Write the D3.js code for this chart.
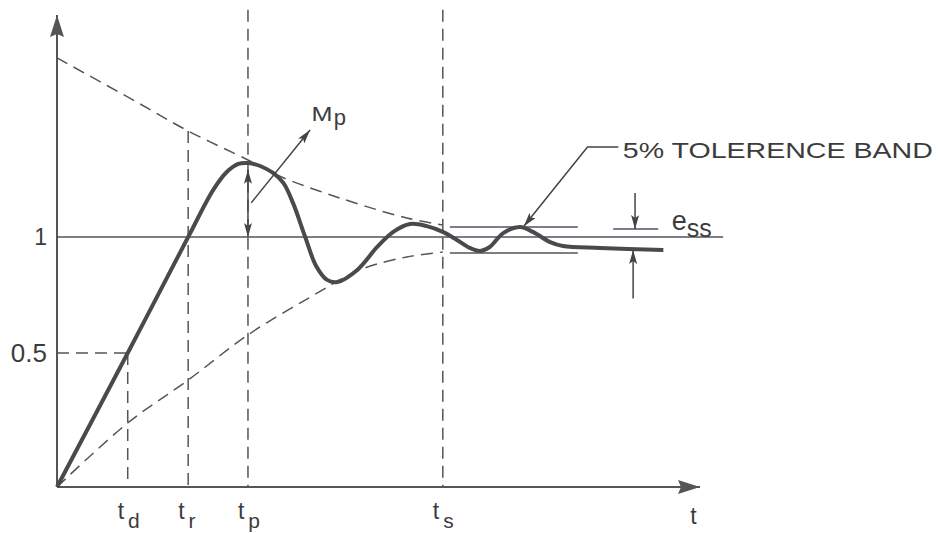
<!DOCTYPE html>
<html>
<head>
<meta charset="UTF-8">
<title>Step response</title>
<script src="https://d3js.org/d3.v7.min.js"></script>
<style>
  body {margin:0; background:#fff;}
  text {font-family:"Liberation Sans", Arial, sans-serif; fill:#3c3c3c;}
  .thin {stroke:#565260; stroke-width:1.5; fill:none;}
  .dash {stroke:#555; stroke-width:1.5; fill:none; stroke-dasharray:12,7;}
  .axis {stroke:#555; stroke-width:2; fill:none;}
</style>
</head>
<body>
<div id="chart"></div>
<script>
// response curve
var respT = [0, 11.0, 20.4, 24.3, 26.4, 28.2, 29.7, 31.6, 33.6, 35.2, 36.7, 38.6, 40.3, 42.0, 43.6, 46.7, 49.8, 52.3, 54.9, 57.5, 60.0, 62.2, 64.2, 65.8, 67.3, 69.4, 72.0, 74.0, 76.7, 78.7, 84.5, 94.3];
var respY = [0, 0.5, 1.0, 1.203, 1.280, 1.315, 1.319, 1.306, 1.276, 1.233, 1.147, 1.0, 0.875, 0.815, 0.806, 0.858, 0.957, 1.022, 1.056, 1.047, 1.022, 0.987, 0.953, 0.940, 0.957, 1.017, 1.043, 1.022, 0.978, 0.961, 0.953, 0.944];

// envelopes (dashed)
var upT = [0, 11.8, 20.4, 29.7, 34.2, 44.0, 54.4, 60.0];
var upY = [1.772, 1.591, 1.457, 1.332, 1.267, 1.168, 1.082, 1.052];
var lowT = [0, 11.0, 20.4, 29.7, 39.4, 47.1, 54.4, 60.0];
var lowY = [0, 0.239, 0.399, 0.578, 0.741, 0.858, 0.914, 0.935];

// time markers
var tickSub = ["d", "r", "p", "s"];
var tickT = [11.0, 20.4, 29.7, 60.0];
var tickTop = [0.5, 1.457, 1.98, 1.98];

// y labels
var yTicks = [0.5, 1];
var yLabels = ["0.5", "1"];

// tolerance band
var bandY = [1.043, 0.931];
var bandT = [61.1, 81.0];
var essY = [1.034, 0.944];

var width = 939, height = 533;

var x = d3.scaleLinear().domain([0, 100]).range([57, 700]);
// hand drawn figure: 0.5 is not half way between 0 and 1
var y = d3.scaleLinear().domain([0, 0.5, 1]).range([487, 353, 237]);

var svg = d3.select("#chart").append("svg")
    .attr("width", width)
    .attr("height", height);

var defs = svg.append("defs");
function marker(id, w, h, col) {
  defs.append("marker").attr("id", id)
      .attr("viewBox", "0 0 " + w + " " + h)
      .attr("refX", w).attr("refY", h / 2)
      .attr("markerWidth", w).attr("markerHeight", h)
      .attr("markerUnits", "userSpaceOnUse")
      .attr("orient", "auto-start-reverse")
    .append("path")
      .attr("d", "M0,0L" + w + "," + (h / 2) + "L0," + h + "L3," + (h / 2) + "Z")
      .attr("fill", col);
}
marker("big", 22, 14, "#555");
marker("small", 14, 8, "#444");

var line = d3.line()
    .x(function(d) {return x(d[0])})
    .y(function(d) {return y(d[1])})
    .curve(d3.curveCatmullRom);

// axes
svg.append("line").attr("class", "axis")
    .attr("x1", x(0)).attr("y1", y(0)).attr("x2", x(0)).attr("y2", y(1.957))
    .attr("marker-end", "url(#big)");
svg.append("line").attr("class", "axis")
    .attr("x1", x(0)).attr("y1", y(0)).attr("x2", x(100)).attr("y2", y(0))
    .attr("marker-end", "url(#big)");

// y = 1 line
svg.append("line").attr("class", "thin")
    .attr("x1", x(0)).attr("y1", y(1)).attr("x2", x(103.6)).attr("y2", y(1));

// 0.5 dashed
svg.append("line").attr("class", "dash")
    .attr("x1", x(0)).attr("y1", y(0.5)).attr("x2", x(tickT[0])).attr("y2", y(0.5));

// vertical dashed markers
svg.selectAll(".vdash").data(tickT).enter().append("line")
    .attr("class", "dash vdash")
    .attr("x1", function(d) {return x(d)})
    .attr("x2", function(d) {return x(d)})
    .attr("y1", function(d, i) {return y(tickTop[i])})
    .attr("y2", y(0));

// envelopes
svg.append("path").attr("class", "dash")
    .attr("d", line(upT.map(function(t, i) {return [t, upY[i]]})));
svg.append("path").attr("class", "dash")
    .attr("d", line(lowT.map(function(t, i) {return [t, lowY[i]]})));

// tolerance band
svg.selectAll(".band").data(bandY).enter().append("line")
    .attr("class", "thin band")
    .attr("x1", x(bandT[0])).attr("x2", x(bandT[1]))
    .attr("y1", function(d) {return y(d)})
    .attr("y2", function(d) {return y(d)});

// response
svg.append("path")
    .attr("d", line(respT.map(function(t, i) {return [t, respY[i]]})))
    .attr("fill", "none")
    .attr("stroke", "#4a4a4a")
    .attr("stroke-width", 4)
    .attr("stroke-linejoin", "round");

// Mp arrows
svg.append("line").attr("stroke", "#444").attr("stroke-width", 1.5)
    .attr("x1", x(29.7)).attr("y1", y(1.29)).attr("x2", x(29.7)).attr("y2", y(1.0))
    .attr("marker-start", "url(#small)").attr("marker-end", "url(#small)");
svg.append("line").attr("stroke", "#444").attr("stroke-width", 1.5)
    .attr("x1", x(30.2)).attr("y1", y(1.147)).attr("x2", x(39.35)).attr("y2", y(1.461))
    .attr("marker-end", "url(#small)");
var mp = svg.append("text").attr("x", x(39.6)).attr("y", y(1.50)).attr("font-size", 21);
mp.append("tspan").attr("textLength", 21).attr("lengthAdjust", "spacingAndGlyphs").text("M");
mp.append("tspan").attr("font-size", 22).attr("dx", 1).attr("dy", 4).text("p");

// tolerance leader
svg.append("polyline").attr("fill", "none").attr("stroke", "#444").attr("stroke-width", 1.5)
    .attr("points", [[x(87.3), y(1.388)], [x(82.5), y(1.388)], [x(72.6), y(1.046)]].join(" "))
    .attr("marker-end", "url(#small)");
svg.append("text").attr("x", x(88.0)).attr("y", y(1.340)).attr("font-size", 22)
    .attr("textLength", 310).attr("lengthAdjust", "spacingAndGlyphs")
    .text("5% TOLERENCE BAND");

// e_ss
svg.append("line").attr("class", "thin")
    .attr("x1", x(86.5)).attr("x2", x(93.5)).attr("y1", y(essY[0])).attr("y2", y(essY[0]));
svg.append("line").attr("stroke", "#444").attr("stroke-width", 1.5)
    .attr("x1", x(89.9)).attr("x2", x(89.9)).attr("y1", y(1.19)).attr("y2", y(essY[0]))
    .attr("marker-end", "url(#small)");
svg.append("line").attr("stroke", "#444").attr("stroke-width", 1.5)
    .attr("x1", x(89.6)).attr("x2", x(89.6)).attr("y1", y(0.735)).attr("y2", y(essY[1]))
    .attr("marker-end", "url(#small)");
var ess = svg.append("text").attr("x", x(95.6)).attr("y", y(1.03)).attr("font-size", 27);
ess.append("tspan").text("e");
ess.append("tspan").attr("font-size", 25).attr("dy", 7).text("ss");

// y labels
svg.selectAll(".ylab").data(yTicks).enter().append("text")
    .attr("class", "ylab")
    .attr("x", 47)
    .attr("y", function(d) {return y(d)})
    .attr("dy", "0.36em")
    .attr("text-anchor", "end")
    .attr("font-size", function(d, i) {return i ? 23 : 26})
    .text(function(d, i) {return yLabels[i]});

// t labels
var tl = svg.selectAll(".tlab").data(tickT).enter().append("text")
    .attr("class", "tlab")
    .attr("x", function(d) {return x(d) - 10})
    .attr("y", 519)
    .attr("font-size", 23);
tl.append("tspan").text("t");
tl.append("tspan").attr("dx", 4).attr("dy", 9).attr("font-size", 21)
    .text(function(d, i) {return tickSub[i]});

svg.append("text").attr("x", x(98.5)).attr("y", 524).attr("font-size", 23).text("t");
</script>
</body>
</html>
